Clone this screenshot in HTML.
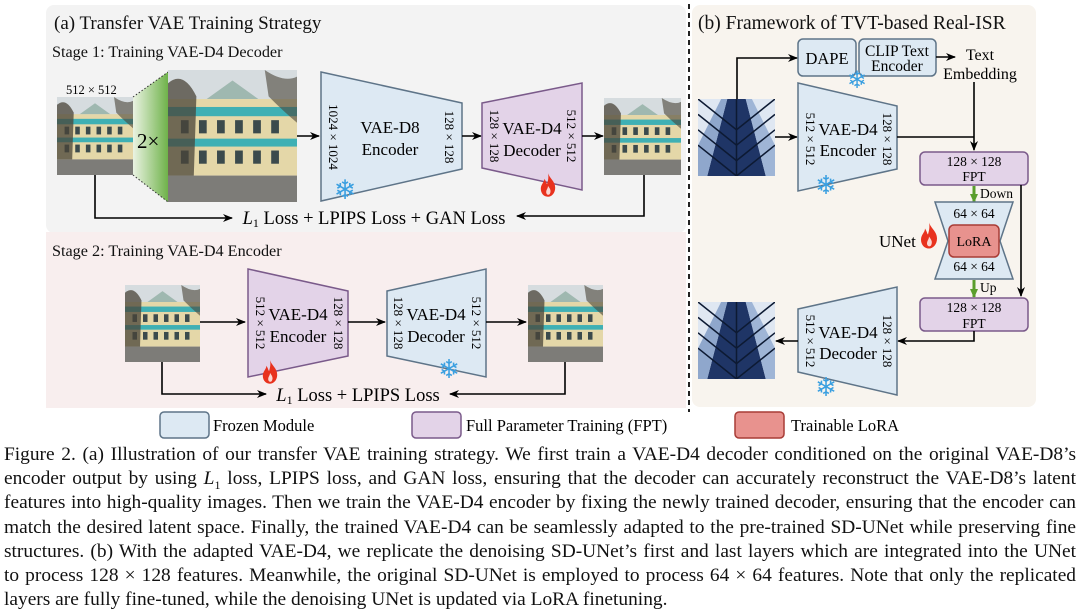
<!DOCTYPE html>
<html><head><meta charset="utf-8"><style>
body{margin:0;width:1080px;height:612px;background:#fff;overflow:hidden;font-family:"Liberation Serif",serif;}
#cap{position:absolute;left:4px;top:443px;width:1072px;font-size:19.4px;line-height:24.2px;color:#111;}
#cap div{text-align:justify;text-align-last:justify;white-space:nowrap;height:24.2px;}
#cap div.l{text-align-last:left;}
#cap sub{font-size:12px;line-height:0;}
</style></head><body>
<svg width="1080" height="440" viewBox="0 0 1080 440" style="position:absolute;left:0;top:0" font-family="Liberation Serif, serif">
<defs>
<marker id="ar" markerWidth="10" markerHeight="10" refX="9" refY="5" orient="auto" markerUnits="userSpaceOnUse"><path d="M0,1 L10,5 L0,9 L3,5z" fill="#000"/></marker>
<marker id="ag" markerWidth="10" markerHeight="10" refX="8" refY="5" orient="auto" markerUnits="userSpaceOnUse"><path d="M0,1 L9,5 L0,9z" fill="#5a9e2c"/></marker>
<linearGradient id="gr" x1="0" x2="1"><stop offset="0" stop-color="#eaf3e2"/><stop offset="1" stop-color="#6fb24a"/></linearGradient>
<symbol id="bld" viewBox="0 0 100 100" preserveAspectRatio="none">
<rect width="100" height="100" fill="#d6dcdf"/>
<rect y="22" width="100" height="58" fill="#e4d7a8"/>
<path d="M30,22 L50,8 L70,22z" fill="#9fb8b0"/>
<rect y="28" width="100" height="7" fill="#3fb0b4"/>
<rect y="52" width="100" height="6" fill="#3fb0b4"/>
<g fill="#3b4a4c"><rect x="10" y="38" width="6" height="10"/><rect x="24" y="38" width="6" height="10"/><rect x="38" y="38" width="6" height="10"/><rect x="52" y="38" width="6" height="10"/><rect x="66" y="38" width="6" height="10"/><rect x="80" y="38" width="6" height="10"/>
<rect x="10" y="61" width="6" height="10"/><rect x="24" y="61" width="6" height="10"/><rect x="38" y="61" width="6" height="10"/><rect x="52" y="61" width="6" height="10"/><rect x="66" y="61" width="6" height="10"/><rect x="80" y="61" width="6" height="10"/></g>
<rect y="80" width="100" height="20" fill="#7d7c78"/>
<path d="M0,10 Q12,0 22,20 L20,80 L0,80z" fill="#4a4438" opacity="0.75"/>
<path d="M75,0 Q90,10 100,5 L100,40 Q88,30 78,20z" fill="#4a4438" opacity="0.6"/>
</symbol>
<symbol id="sky" viewBox="0 0 100 100" preserveAspectRatio="none">
<rect width="100" height="100" fill="#dfe7f2"/>
<path d="M12,100 L38,0 L62,0 L88,100z" fill="#1f3566"/>
<path d="M0,100 L0,60 L30,0 L38,0 L12,100z" fill="#8fa7cc"/>
<path d="M100,100 L100,60 L70,0 L62,0 L88,100z" fill="#9fb5d6"/>
<g stroke="#0d1a33" stroke-width="2" fill="none"><path d="M0,20 L50,60 L100,20"/><path d="M0,40 L50,80 L100,40"/><path d="M0,60 L50,100 L100,60"/><path d="M0,0 L50,40 L100,0"/><line x1="50" y1="0" x2="50" y2="100"/></g>
</symbol>
<symbol id="fire" viewBox="0 0 20 26"><path d="M10,0 C12,6 18,9 18,16 C18,22 14,26 10,26 C5,26 2,22 2,17 C2,12 6,10 6,6 C8,9 8,11 9,12 C10,8 11,5 10,0z" fill="#e8321e"/><path d="M10,14 C12,17 14,19 12,23 C10,25 8,23 8,21 C8,18 10,17 10,14z" fill="#fff" opacity="0.8"/></symbol>
</defs>
<rect x="46" y="5" width="640" height="228" rx="8" fill="#f3f3f3"/>
<rect x="46" y="232" width="640" height="176" fill="#f8eeee"/>
<rect x="692" y="5" width="344" height="402" rx="8" fill="#f8f4ee"/>
<line x1="689" y1="4" x2="689" y2="412" stroke="#222" stroke-width="2" stroke-dasharray="5,4"/>
<g fill="#111">
<text x="54" y="29" font-size="19">(a) Transfer VAE Training Strategy</text>
<text x="52" y="57" font-size="16.2">Stage 1: Training VAE-D4 Decoder</text>
<text x="52" y="256" font-size="16.2">Stage 2: Training VAE-D4 Encoder</text>
<text x="698" y="29" font-size="19.5">(b) Framework of TVT-based Real-ISR</text>
</g>
<text x="66" y="94" font-size="12.5">512 × 512</text>
<use href="#bld" x="57" y="97" width="76" height="78"/>
<path d="M133,97 L168,72 L168,202 L133,175z" fill="url(#gr)"/>
<path d="M133,97 L168,72 M133,175 L168,202" stroke="#333" stroke-dasharray="1.5,2"/>
<text x="137" y="148" font-size="21">2×</text>
<use href="#bld" x="168" y="70" width="129" height="132"/>
<line x1="297" y1="136" x2="319" y2="136" stroke="#000" stroke-width="1.6" marker-end="url(#ar)"/>
<path d="M321,72 L462,103 L462,169 L321,201z" fill="#dde9f3" stroke="#5e7488" stroke-width="1.5"/>
<text x="390" y="133" font-size="17" text-anchor="middle">VAE-D8</text>
<text x="390" y="155" font-size="17" text-anchor="middle">Encoder</text>
<text transform="translate(329,137) rotate(90)" font-size="13" text-anchor="middle">1024 × 1024</text>
<text transform="translate(445,137) rotate(90)" font-size="13" text-anchor="middle">128 × 128</text>
<text x="345" y="199" font-size="27" fill="#3a9fe0" text-anchor="middle">❄</text>
<line x1="462" y1="136" x2="481" y2="136" stroke="#000" stroke-width="1.6" marker-end="url(#ar)"/>
<path d="M482,103 L582,83 L582,190 L482,168z" fill="#e3d3e8" stroke="#7a5a8a" stroke-width="1.5"/>
<text x="532" y="134" font-size="17" text-anchor="middle">VAE-D4</text>
<text x="532" y="156" font-size="17" text-anchor="middle">Decoder</text>
<text transform="translate(490,136) rotate(90)" font-size="13" text-anchor="middle">128 × 128</text>
<text transform="translate(567,136) rotate(90)" font-size="13" text-anchor="middle">512 × 512</text>
<use href="#fire" x="539" y="173" width="18" height="24"/>
<line x1="582" y1="136" x2="603" y2="136" stroke="#000" stroke-width="1.6" marker-end="url(#ar)"/>
<use href="#bld" x="604" y="98" width="77" height="77"/>
<path d="M95,175 L95,218 L232,218" fill="none" stroke="#000" stroke-width="1.6" marker-end="url(#ar)"/>
<path d="M644,175 L644,216 L517,216" fill="none" stroke="#000" stroke-width="1.6" marker-end="url(#ar)"/>
<text x="374" y="224" font-size="18.5" text-anchor="middle"><tspan font-style="italic">L</tspan><tspan font-size="12" dy="3">1</tspan><tspan dy="-3"> Loss + LPIPS Loss + GAN Loss</tspan></text>
<use href="#bld" x="125" y="285" width="75" height="77"/>
<line x1="200" y1="322" x2="245" y2="322" stroke="#000" stroke-width="1.6" marker-end="url(#ar)"/>
<path d="M248,269 L348,291 L348,356 L248,377z" fill="#e3d3e8" stroke="#7a5a8a" stroke-width="1.5"/>
<text x="298" y="320" font-size="17" text-anchor="middle">VAE-D4</text>
<text x="298" y="342" font-size="17" text-anchor="middle">Encoder</text>
<text transform="translate(256,323) rotate(90)" font-size="13" text-anchor="middle">512 × 512</text>
<text transform="translate(334,323) rotate(90)" font-size="13" text-anchor="middle">128 × 128</text>
<use href="#fire" x="261" y="360" width="18" height="24"/>
<line x1="348" y1="322" x2="385" y2="322" stroke="#000" stroke-width="1.6" marker-end="url(#ar)"/>
<path d="M387,291 L486,269 L486,377 L387,356z" fill="#dde9f3" stroke="#5e7488" stroke-width="1.5"/>
<text x="436" y="320" font-size="17" text-anchor="middle">VAE-D4</text>
<text x="436" y="342" font-size="17" text-anchor="middle">Decoder</text>
<text transform="translate(394,323) rotate(90)" font-size="13" text-anchor="middle">128 × 128</text>
<text transform="translate(472,323) rotate(90)" font-size="13" text-anchor="middle">512 × 512</text>
<text x="449" y="378" font-size="26" fill="#3a9fe0" text-anchor="middle">❄</text>
<line x1="486" y1="322" x2="526" y2="322" stroke="#000" stroke-width="1.6" marker-end="url(#ar)"/>
<use href="#bld" x="528" y="285" width="75" height="77"/>
<path d="M162,362 L162,394 L266,394" fill="none" stroke="#000" stroke-width="1.6" marker-end="url(#ar)"/>
<path d="M565,362 L565,394 L450,394" fill="none" stroke="#000" stroke-width="1.6" marker-end="url(#ar)"/>
<text x="358" y="401" font-size="18.5" text-anchor="middle"><tspan font-style="italic">L</tspan><tspan font-size="12" dy="3">1</tspan><tspan dy="-3"> Loss + LPIPS Loss</tspan></text>
<rect x="798" y="39" width="58" height="37" rx="5" fill="#dde9f3" stroke="#5e7488" stroke-width="1.5"/>
<text x="827" y="64" font-size="16.5" text-anchor="middle">DAPE</text>
<rect x="859" y="39" width="77" height="37" rx="5" fill="#dde9f3" stroke="#5e7488" stroke-width="1.5"/>
<text x="897" y="56" font-size="15.5" text-anchor="middle">CLIP Text</text>
<text x="897" y="71" font-size="15.5" text-anchor="middle">Encoder</text>
<text x="857" y="88" font-size="24" fill="#3a9fe0" text-anchor="middle">❄</text>
<line x1="936" y1="57" x2="955" y2="57" stroke="#000" stroke-width="1.6" marker-end="url(#ar)"/>
<text x="980" y="60" font-size="16" text-anchor="middle">Text</text>
<text x="980" y="79" font-size="16" text-anchor="middle">Embedding</text>
<use href="#sky" x="698" y="99" width="77" height="77"/>
<path d="M737,99 L737,58 L797,58" fill="none" stroke="#000" stroke-width="1.6" marker-end="url(#ar)"/>
<line x1="775" y1="137" x2="797" y2="137" stroke="#000" stroke-width="1.6" marker-end="url(#ar)"/>
<path d="M798,83 L897,106 L897,169 L798,191z" fill="#dde9f3" stroke="#5e7488" stroke-width="1.5"/>
<text x="848" y="135" font-size="17" text-anchor="middle">VAE-D4</text>
<text x="848" y="156" font-size="17" text-anchor="middle">Encoder</text>
<text transform="translate(806,139) rotate(90)" font-size="13" text-anchor="middle">512 × 512</text>
<text transform="translate(883,139) rotate(90)" font-size="13" text-anchor="middle">128 × 128</text>
<text x="826" y="194" font-size="26" fill="#3a9fe0" text-anchor="middle">❄</text>
<path d="M897,137 L974,137" fill="none" stroke="#000" stroke-width="1.6"/>
<line x1="974" y1="82" x2="974" y2="150" stroke="#000" stroke-width="1.6" marker-end="url(#ar)"/>
<rect x="920" y="152" width="108" height="33" rx="5" fill="#e3d3e8" stroke="#7a5a8a" stroke-width="1.5"/>
<text x="974" y="166" font-size="13.5" text-anchor="middle">128 × 128</text>
<text x="974" y="181" font-size="13.5" text-anchor="middle">FPT</text>
<line x1="974" y1="186" x2="974" y2="202" stroke="#5a9e2c" stroke-width="3" marker-end="url(#ag)"/>
<text x="980" y="198" font-size="13.5">Down</text>
<path d="M935,202 L1013,202 L1000,241 L1013,279 L935,279 L948,241z" fill="#dde9f3" stroke="#5e7488" stroke-width="1.5"/>
<text x="974" y="218" font-size="13.5" text-anchor="middle">64 × 64</text>
<rect x="949" y="225" width="50" height="32" rx="5" fill="#e8928e" stroke="#a83c36" stroke-width="1.5"/>
<text x="974" y="246" font-size="14" text-anchor="middle">LoRA</text>
<text x="974" y="271" font-size="13.5" text-anchor="middle">64 × 64</text>
<text x="879" y="247" font-size="17">UNet</text>
<use href="#fire" x="919" y="222" width="20" height="27"/>
<line x1="1021" y1="185" x2="1021" y2="296" stroke="#000" stroke-width="1.6" marker-end="url(#ar)"/>
<line x1="974" y1="280" x2="974" y2="297" stroke="#5a9e2c" stroke-width="3" marker-end="url(#ag)"/>
<text x="980" y="292" font-size="13.5">Up</text>
<rect x="920" y="298" width="108" height="33" rx="5" fill="#e3d3e8" stroke="#7a5a8a" stroke-width="1.5"/>
<text x="974" y="312" font-size="13.5" text-anchor="middle">128 × 128</text>
<text x="974" y="328" font-size="13.5" text-anchor="middle">FPT</text>
<path d="M974,331 L974,341 L898,341" fill="none" stroke="#000" stroke-width="1.6" marker-end="url(#ar)"/>
<path d="M798,309 L897,287 L897,395 L798,372z" fill="#dde9f3" stroke="#5e7488" stroke-width="1.5"/>
<text x="848" y="338" font-size="17" text-anchor="middle">VAE-D4</text>
<text x="848" y="359" font-size="17" text-anchor="middle">Decoder</text>
<text transform="translate(806,341) rotate(90)" font-size="13" text-anchor="middle">512 × 512</text>
<text transform="translate(883,341) rotate(90)" font-size="13" text-anchor="middle">128 × 128</text>
<text x="826" y="396" font-size="26" fill="#3a9fe0" text-anchor="middle">❄</text>
<line x1="798" y1="341" x2="776" y2="341" stroke="#000" stroke-width="1.6" marker-end="url(#ar)"/>
<use href="#sky" x="698" y="302" width="77" height="77"/>
<rect x="160" y="412" width="49" height="26" rx="4" fill="#dde9f3" stroke="#5e7488" stroke-width="1.5"/>
<text x="213" y="431" font-size="16.5">Frozen Module</text>
<rect x="412" y="412" width="49" height="26" rx="4" fill="#e3d3e8" stroke="#7a5a8a" stroke-width="1.5"/>
<text x="466" y="431" font-size="16.5">Full Parameter Training (FPT)</text>
<rect x="735" y="412" width="49" height="26" rx="4" fill="#e8928e" stroke="#a83c36" stroke-width="1.5"/>
<text x="791" y="431" font-size="16.5">Trainable LoRA</text>
</svg>
<div id="cap">
<div>Figure 2. (a) Illustration of our transfer VAE training strategy. We first train a VAE-D4 decoder conditioned on the original VAE-D8’s</div>
<div>encoder output by using <i>L</i><sub>1</sub> loss, LPIPS loss, and GAN loss, ensuring that the decoder can accurately reconstruct the VAE-D8’s latent</div>
<div>features into high-quality images. Then we train the VAE-D4 encoder by fixing the newly trained decoder, ensuring that the encoder can</div>
<div>match the desired latent space. Finally, the trained VAE-D4 can be seamlessly adapted to the pre-trained SD-UNet while preserving fine</div>
<div>structures. (b) With the adapted VAE-D4, we replicate the denoising SD-UNet’s first and last layers which are integrated into the UNet</div>
<div>to process 128 × 128 features. Meanwhile, the original SD-UNet is employed to process 64 × 64 features. Note that only the replicated</div>
<div class="l">layers are fully fine-tuned, while the denoising UNet is updated via LoRA finetuning.</div>
</div>
</body></html>
